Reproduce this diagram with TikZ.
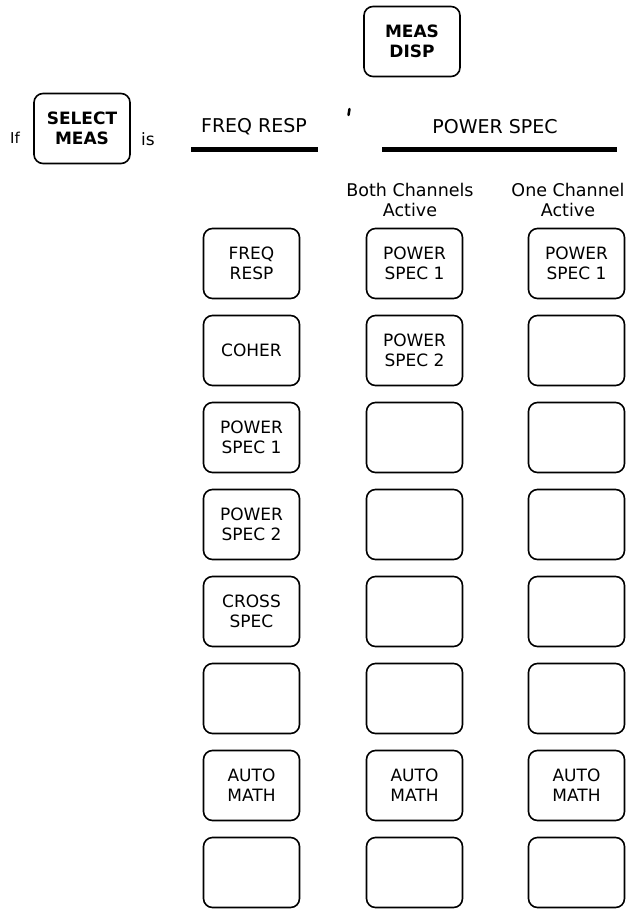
\documentclass[tikz,border=0pt]{standalone}
\usepackage{fontspec}
\setmainfont{DejaVu Sans}
\begin{document}
\begin{tikzpicture}[x=1pt,y=-1pt,
  keybox/.style={draw, line width=1.6pt, rounded corners=9pt, minimum width=96pt,
    minimum height=70pt, inner sep=0pt, align=center,
    font=\fontsize{17}{20}\selectfont},
  boldkey/.style={keybox, font=\fontsize{17}{20}\selectfont\bfseries},
  head/.style={inner sep=0pt, align=center, font=\fontsize{19}{20}\selectfont},
  sub/.style={inner sep=0pt, align=center, font=\fontsize{17.5}{20}\selectfont},
  word/.style={inner sep=0pt, anchor=base},
  bar/.style={line width=5pt}]
\useasboundingbox (0,0) rectangle (634,909);

% top keys
\node[boldkey] (disp) at (412,41.5) {MEAS\\DISP};
\node[boldkey] (sel) at (82,128.5) {SELECT\\MEAS};
\node[word, font=\fontsize{15}{16}\selectfont] (txtif) at (15,144) {If};
\node[word, font=\fontsize{17}{20}\selectfont] (txtis) at (148,146) {is};

% headers
\node[head] (hfr) at (254,127) {FREQ RESP};
\node[head] (hps) at (495,127) {POWER SPEC};
\draw[bar] (191,149.5) -- (318,149.5);
\draw[bar] (382,149.5) -- (617,149.5);
\draw[line width=2.5pt, line cap=round] (349.5,109) -- (348.5,115);

\node[sub] (both) at (410,200) {Both Channels\\Active};
\node[sub] (one) at (568,200) {One Channel\\Active};

% left column (FREQ RESP)
\node[keybox] (a1) at (251.5,263.5) {FREQ\\RESP};
\node[keybox] (a2) at (251.5,350.5) {COHER};
\node[keybox] (a3) at (251.5,437.5) {POWER\\SPEC 1};
\node[keybox] (a4) at (251.5,524.5) {POWER\\SPEC 2};
\node[keybox] (a5) at (251.5,611.5) {CROSS\\SPEC};
\node[keybox] (a6) at (251.5,698.5) {};
\node[keybox] (a7) at (251.5,785.5) {AUTO\\MATH};
\node[keybox] (a8) at (251.5,872.5) {};

% middle column (both channels)
\node[keybox] (b1) at (414.5,263.5) {POWER\\SPEC 1};
\node[keybox] (b2) at (414.5,350.5) {POWER\\SPEC 2};
\node[keybox] (b3) at (414.5,437.5) {};
\node[keybox] (b4) at (414.5,524.5) {};
\node[keybox] (b5) at (414.5,611.5) {};
\node[keybox] (b6) at (414.5,698.5) {};
\node[keybox] (b7) at (414.5,785.5) {AUTO\\MATH};
\node[keybox] (b8) at (414.5,872.5) {};

% right column (one channel)
\node[keybox] (c1) at (576.5,263.5) {POWER\\SPEC 1};
\node[keybox] (c2) at (576.5,350.5) {};
\node[keybox] (c3) at (576.5,437.5) {};
\node[keybox] (c4) at (576.5,524.5) {};
\node[keybox] (c5) at (576.5,611.5) {};
\node[keybox] (c6) at (576.5,698.5) {};
\node[keybox] (c7) at (576.5,785.5) {AUTO\\MATH};
\node[keybox] (c8) at (576.5,872.5) {};
\end{tikzpicture}
\end{document}
